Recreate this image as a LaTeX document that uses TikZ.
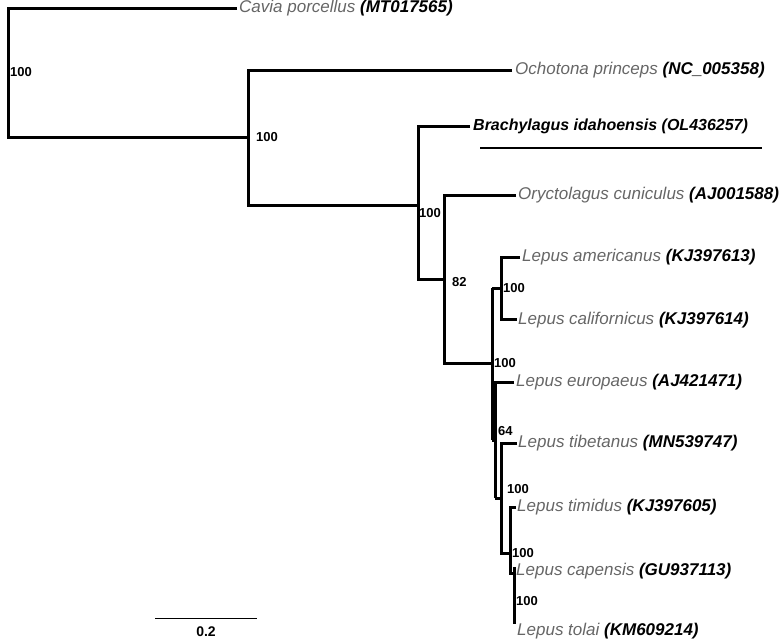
\documentclass[tikz,border=0pt]{standalone}
\usepackage{fontspec}
\setmainfont{Liberation Sans}
\begin{document}
\begin{tikzpicture}[x=1pt,y=-1pt,
  br/.style={line width=3pt},
  tax/.style={anchor=west,inner sep=1pt,font=\fontsize{17}{17}\selectfont\itshape,text=black!60},
  bs/.style={anchor=west,inner sep=0pt,font=\fontsize{13}{13}\selectfont\bfseries}]
\useasboundingbox (0,0) rectangle (783,643);
% leaf coordinates
\coordinate (cav) at (237,8);
\coordinate (och) at (512,70);
\coordinate (bra) at (470,126);
\coordinate (ory) at (516,195);
\coordinate (ame) at (520,257);
\coordinate (cal) at (517,319);
\coordinate (eur) at (514,382);
\coordinate (tib) at (517,443);
\coordinate (tim) at (516,507);
\coordinate (cap) at (516,568);
\coordinate (tol) at (516,622);
% internal
\coordinate (R) at (8,137);
\coordinate (A) at (248,205);
\coordinate (B) at (418,279);
\coordinate (C) at (444,363);
\coordinate (D) at (492,288);
\coordinate (E) at (501,257);
\coordinate (G) at (495,498);
\coordinate (H) at (501,553);
\coordinate (I) at (510,573);
\coordinate (J) at (514,568);
% branches
\draw[br] (cav) -| (8,137) -- (248,137);
\draw[br] (och) -| (A) -- (418,205);
\draw[br] (bra) -| (B) -- (444,279);
\draw[br] (ory) -| (C) -- (492,363);
\draw[br] (492,288) -- (492,440);
\draw[br] (ame) -| (501,319) -- (cal);
\draw[br] (492,288) -- (501,288);
\draw[br] (eur) -| (G);
\draw[br] (492,440) -- (495,440);
\draw[br] (G) -- (501,498);
\draw[br] (tib) -| (H) -- (510,553);
\draw[br] (tim) -| (I) -- (514,573);
\draw[br] (cap) -| (514,622) -- (tol);
% node labels
\node[bs] (l1) at (10,72) {100};
\node[bs] (l2) at (256,137) {100};
\node[bs] (l3) at (419,213) {100};
\node[bs] (l4) at (452,282) {82};
\node[bs] (l5) at (503,288) {100};
\node[bs] (l6) at (494,363) {100};
\node[bs] (l7) at (498,431) {64};
\node[bs] (l8) at (507,489) {100};
\node[bs] (l9) at (512,553) {100};
\node[bs] (l10) at (516,601) {100};
% taxa
\node[tax] (t1) at (238,8) {Cavia porcellus \textcolor{black}{\bfseries(MT017565)}};
\node[tax] (t2) at (514,70) {Ochotona princeps \textcolor{black}{\bfseries(NC\_005358)}};
\node[tax,text=black,font=\fontsize{16}{16}\selectfont\bfseries\itshape] (t3) at (472,126) {Brachylagus idahoensis (OL436257)};
\node[tax] (t4) at (517,195) {Oryctolagus cuniculus \textcolor{black}{\bfseries(AJ001588)}};
\node[tax] (t5) at (521,257) {Lepus americanus \textcolor{black}{\bfseries(KJ397613)}};
\node[tax] (t6) at (517,320) {Lepus californicus \textcolor{black}{\bfseries(KJ397614)}};
\node[tax] (t7) at (515,382) {Lepus europaeus \textcolor{black}{\bfseries(AJ421471)}};
\node[tax] (t8) at (517,443) {Lepus tibetanus \textcolor{black}{\bfseries(MN539747)}};
\node[tax] (t9) at (516,507) {Lepus timidus \textcolor{black}{\bfseries(KJ397605)}};
\node[tax] (t10) at (515,571) {Lepus capensis \textcolor{black}{\bfseries(GU937113)}};
\node[tax] (t11) at (516,631) {Lepus tolai \textcolor{black}{\bfseries(KM609214)}};
\draw[line width=2pt] (480,148) -- (762,148);
% scale
\coordinate (s1) at (155,618);
\coordinate (s2) at (257,618);
\draw[line width=1pt] (s1) -- (s2);
\node[font=\fontsize{14}{14}\selectfont\bfseries] (sc) at (206,632) {0.2};
\end{tikzpicture}
\end{document}
